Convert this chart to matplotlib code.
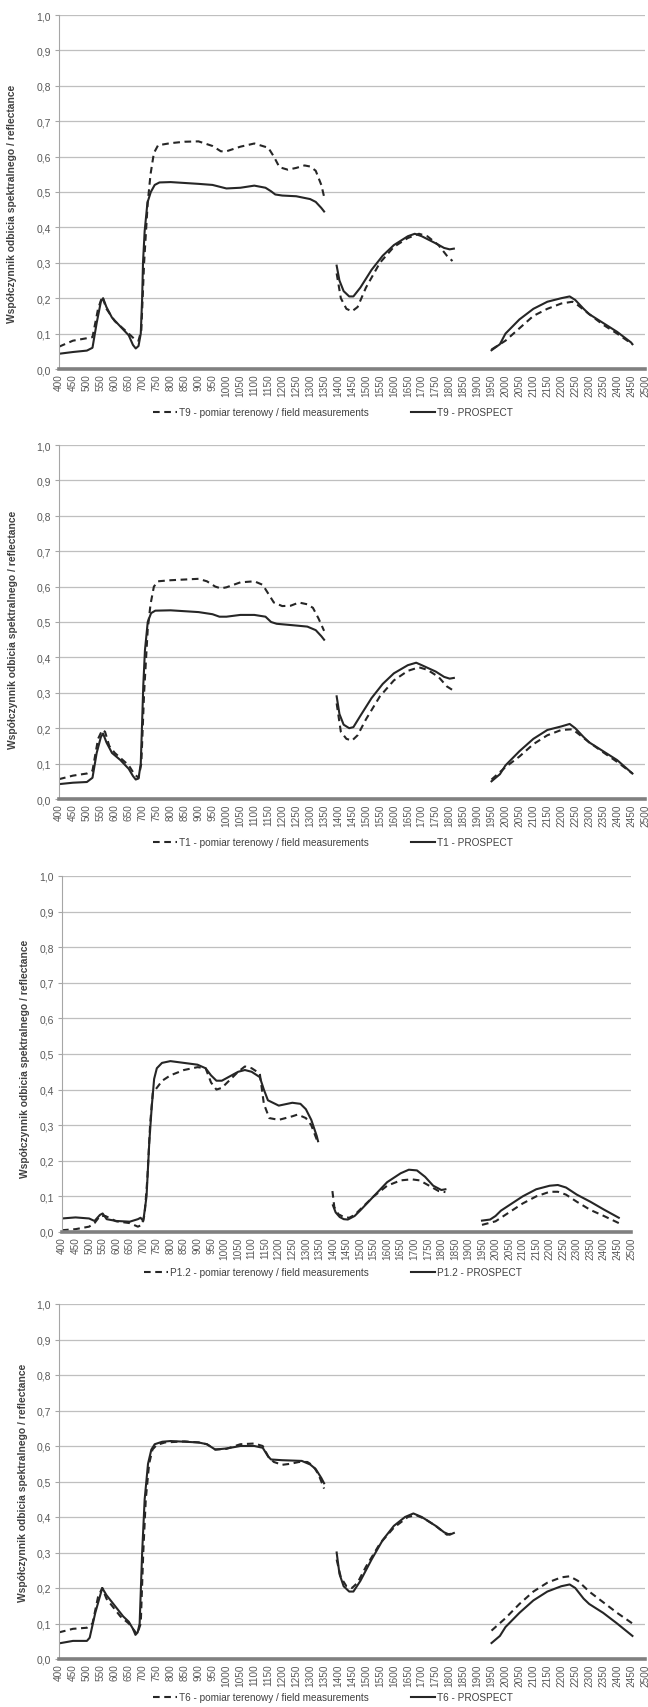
import numpy as np
import matplotlib
matplotlib.use("Agg")
import matplotlib.pyplot as plt

plt.rcParams["font.family"] = ["Liberation Sans", "DejaVu Sans"]

nan = np.nan

WAVELENGTH_TICKS = list(range(400, 2501, 50))
Y_TICKS = [0.0, 0.1, 0.2, 0.3, 0.4, 0.5, 0.6, 0.7, 0.8, 0.9, 1.0]
Y_TICK_LABELS = ["0,0", "0,1", "0,2", "0,3", "0,4", "0,5", "0,6", "0,7", "0,8", "0,9", "1,0"]
Y_LABEL = "Współczynnik odbicia spektralnego / reflectance"

# --- T9 ---
T9_FIELD_WL = [400, 450, 500, 520, 540, 555, 570, 600, 650, 670, 685, 695, 705, 718, 728, 740, 755,
               800, 850, 900, 950, 980, 1000, 1050, 1100, 1150, 1170, 1190, 1220, 1250, 1280,
               1300, 1320, 1340, 1352, 1375,
               1395, 1410, 1430, 1450, 1470, 1500, 1550, 1600, 1650, 1690, 1720, 1760, 1790, 1810, 1880,
               1950, 2000, 2050, 2100, 2150, 2200, 2240, 2260, 2300, 2350, 2400, 2455]
T9_FIELD = [0.063, 0.080, 0.087, 0.090, 0.170, 0.205, 0.170, 0.135, 0.100, 0.085, 0.080, 0.110,
            0.300, 0.470, 0.550, 0.610, 0.632, 0.638, 0.642, 0.643, 0.630, 0.615, 0.615, 0.628,
            0.637, 0.625, 0.600, 0.570, 0.563, 0.568, 0.575, 0.572, 0.560, 0.520, 0.480, nan,
            0.270, 0.200, 0.170, 0.163, 0.175, 0.230, 0.300, 0.345, 0.370, 0.382, 0.375, 0.350,
            0.320, 0.305, nan,
            0.055, 0.080, 0.115, 0.150, 0.170, 0.185, 0.190, 0.180, 0.155, 0.125, 0.100, 0.070]
T9_PROSPECT_WL = [400, 450, 500, 520, 535, 550, 558, 570, 590, 620, 650, 665, 675, 685, 693, 698,
                  701, 707, 717, 729, 743, 760, 800, 900, 950, 1000, 1050, 1100, 1140, 1160, 1175,
                  1200, 1250, 1300, 1320, 1340, 1350, 1375,
                  1395, 1405, 1420, 1440, 1455, 1480, 1520, 1560, 1600, 1650, 1675, 1700, 1750,
                  1780, 1800, 1815, 1880,
                  1950, 1980, 2000, 2050, 2100, 2150, 2200, 2230, 2250, 2280, 2300, 2350, 2400,
                  2450, 2455]
T9_PROSPECT = [0.043, 0.048, 0.052, 0.060, 0.130, 0.190, 0.200, 0.175, 0.145, 0.120, 0.095, 0.068,
               0.058, 0.065, 0.100, 0.200, 0.300, 0.390, 0.470, 0.500, 0.520, 0.527, 0.528, 0.523,
               0.520, 0.510, 0.512, 0.518, 0.512, 0.502, 0.493, 0.490, 0.488, 0.480, 0.472, 0.455,
               0.445, nan,
               0.292, 0.250, 0.220, 0.205, 0.205, 0.230, 0.280, 0.320, 0.350, 0.375, 0.382, 0.375,
               0.355, 0.342, 0.338, 0.340, nan,
               0.053, 0.070, 0.100, 0.140, 0.170, 0.190, 0.200, 0.205, 0.195, 0.170, 0.155, 0.130,
               0.105, 0.075, 0.070]

# --- T1 ---
T1_FIELD_WL = [400, 450, 500, 520, 540, 555, 565, 580, 600, 650, 670, 685, 695, 705, 718, 728, 740,
               755, 800, 850, 900, 930, 960, 980, 1000, 1050, 1100, 1130, 1150, 1170, 1200, 1230,
               1260, 1290, 1310, 1330, 1350, 1375,
               1395, 1410, 1430, 1450, 1470, 1500, 1550, 1600, 1650, 1690, 1720, 1760, 1790, 1810, 1880,
               1950, 2000, 2050, 2100, 2150, 2200, 2240, 2260, 2300, 2350, 2400, 2455]
T1_FIELD = [0.056, 0.066, 0.072, 0.080, 0.170, 0.195, 0.190, 0.150, 0.130, 0.095, 0.070, 0.060,
            0.100, 0.300, 0.480, 0.550, 0.600, 0.615, 0.618, 0.620, 0.622, 0.615, 0.600, 0.595,
            0.598, 0.612, 0.615, 0.605, 0.580, 0.555, 0.545, 0.546, 0.555, 0.550, 0.540, 0.510,
            0.475, nan,
            0.270, 0.190, 0.170, 0.165, 0.180, 0.225, 0.290, 0.335, 0.362, 0.372, 0.365, 0.345,
            0.318, 0.308, nan,
            0.055, 0.090, 0.120, 0.155, 0.180, 0.195, 0.197, 0.185, 0.160, 0.132, 0.105, 0.072]
T1_PROSPECT_WL = [400, 450, 500, 520, 535, 550, 558, 570, 590, 620, 650, 665, 675, 685, 693, 698,
                  702, 708, 718, 730, 745, 800, 900, 950, 975, 1000, 1050, 1100, 1140, 1160, 1180,
                  1250, 1290, 1320, 1340, 1350, 1375,
                  1395, 1405, 1420, 1440, 1455, 1480, 1520, 1560, 1600, 1650, 1680, 1700, 1750,
                  1780, 1800, 1815, 1880,
                  1950, 1980, 2000, 2050, 2100, 2150, 2200, 2230, 2250, 2280, 2300, 2350, 2400, 2455]
T1_PROSPECT = [0.042, 0.046, 0.048, 0.060, 0.130, 0.175, 0.185, 0.160, 0.130, 0.110, 0.085, 0.065,
               0.055, 0.058, 0.100, 0.220, 0.320, 0.420, 0.500, 0.525, 0.532, 0.533, 0.528, 0.522,
               0.515, 0.515, 0.520, 0.520, 0.515, 0.500, 0.495, 0.490, 0.487, 0.477, 0.460, 0.450,
               nan,
               0.290, 0.240, 0.210, 0.200, 0.203, 0.235, 0.285, 0.325, 0.355, 0.378, 0.385, 0.378,
               0.360, 0.345, 0.340, 0.342, nan,
               0.050, 0.070, 0.095, 0.135, 0.170, 0.195, 0.205, 0.212, 0.200, 0.175, 0.160, 0.135,
               0.110, 0.072]

# --- P1.2 ---
P12_FIELD_WL = [400, 450, 500, 520, 540, 560, 600, 650, 680, 695, 705, 715, 725, 735, 750, 770, 800,
                850, 900, 930, 950, 970, 990, 1010, 1050, 1075, 1100, 1130, 1145, 1165, 1200, 1250,
                1270, 1300, 1320, 1340, 1345, 1375,
                1398, 1405, 1420, 1440, 1460, 1480, 1500, 1550, 1600, 1650, 1690, 1720, 1760, 1790,
                1815, 1880,
                1950, 2000, 2050, 2100, 2150, 2200, 2230, 2260, 2300, 2350, 2400, 2455]
P12_FIELD = [0.005, 0.008, 0.015, 0.025, 0.045, 0.045, 0.030, 0.025, 0.015, 0.020, 0.050, 0.150,
             0.300, 0.390, 0.405, 0.425, 0.440, 0.455, 0.463, 0.460, 0.420, 0.400, 0.405, 0.420,
             0.450, 0.465, 0.460, 0.445, 0.360, 0.320, 0.315, 0.325, 0.330, 0.320, 0.300, 0.260,
             0.250, nan,
             0.115, 0.070, 0.050, 0.042, 0.040, 0.048, 0.063, 0.100, 0.130, 0.145, 0.148, 0.145,
             0.128, 0.115, 0.112, nan,
             0.020, 0.030, 0.055, 0.080, 0.100, 0.113, 0.113, 0.105, 0.085, 0.062, 0.045, 0.025]
P12_PROSPECT_WL = [400, 450, 500, 520, 540, 550, 565, 600, 650, 680, 690, 700, 712, 722, 731, 740,
                   750, 769, 800, 850, 900, 930, 950, 970, 990, 1050, 1075, 1100, 1130, 1145, 1160,
                   1200, 1250, 1280, 1300, 1320, 1340, 1345, 1375,
                   1400, 1410, 1425, 1440, 1455, 1480, 1500, 1550, 1600, 1650, 1680, 1710, 1740,
                   1770, 1800, 1815, 1880,
                   1950, 1980, 2000, 2020, 2050, 2100, 2150, 2200, 2230, 2260, 2300, 2350, 2400, 2455]
P12_PROSPECT = [0.038, 0.041, 0.038, 0.031, 0.048, 0.052, 0.036, 0.031, 0.029, 0.036, 0.040, 0.031,
                0.100, 0.250, 0.350, 0.430, 0.460, 0.475, 0.480, 0.475, 0.470, 0.460, 0.440, 0.425,
                0.425, 0.450, 0.455, 0.450, 0.435, 0.400, 0.370, 0.355, 0.363, 0.360, 0.345, 0.315,
                0.270, 0.255, nan,
                0.075, 0.055, 0.042, 0.036, 0.035, 0.045, 0.060, 0.100, 0.140, 0.165, 0.175, 0.173,
                0.155, 0.130, 0.118, 0.120, nan,
                0.032, 0.035, 0.045, 0.060, 0.075, 0.100, 0.120, 0.130, 0.132, 0.125, 0.105, 0.085,
                0.063, 0.040]

# --- T6 ---
T6_FIELD_WL = [400, 450, 500, 520, 540, 555, 570, 600, 620, 650, 670, 680, 693, 702, 711, 723, 735,
               750, 780, 850, 900, 930, 960, 1000, 1050, 1100, 1130, 1150, 1170, 1200, 1230, 1260,
               1290, 1310, 1330, 1350, 1375,
               1395, 1410, 1430, 1450, 1470, 1500, 1550, 1600, 1650, 1680, 1710, 1750, 1790, 1815, 1880,
               1950, 2000, 2050, 2100, 2150, 2200, 2230, 2260, 2300, 2350, 2400, 2455]
T6_FIELD = [0.075, 0.085, 0.088, 0.100, 0.175, 0.200, 0.170, 0.140, 0.120, 0.100, 0.080, 0.070,
            0.100, 0.300, 0.450, 0.550, 0.590, 0.603, 0.610, 0.613, 0.610, 0.605, 0.590, 0.592,
            0.605, 0.607, 0.600, 0.570, 0.555, 0.547, 0.550, 0.555, 0.555, 0.545, 0.520, 0.480, nan,
            0.280, 0.230, 0.205, 0.200, 0.215, 0.260, 0.325, 0.370, 0.400, 0.405, 0.395, 0.375,
            0.350, 0.355, nan,
            0.080, 0.115, 0.155, 0.190, 0.215, 0.230, 0.233, 0.220, 0.190, 0.160, 0.130, 0.100]
T6_PROSPECT_WL = [400, 450, 500, 510, 530, 555, 570, 600, 630, 650, 665, 674, 682, 689, 698, 707,
                  719, 731, 743, 770, 800, 900, 930, 960, 1000, 1050, 1100, 1130, 1150, 1160, 1200,
                  1270, 1300, 1320, 1340, 1350, 1375,
                  1395, 1405, 1420, 1440, 1455, 1480, 1520, 1560, 1600, 1640, 1670, 1700, 1750,
                  1780, 1800, 1815, 1880,
                  1950, 1980, 2000, 2050, 2100, 2150, 2200, 2230, 2250, 2280, 2300, 2350, 2400, 2455]
T6_PROSPECT = [0.044, 0.051, 0.051, 0.060, 0.130, 0.200, 0.180, 0.150, 0.120, 0.105, 0.085, 0.068,
               0.075, 0.100, 0.300, 0.450, 0.550, 0.590, 0.605, 0.612, 0.614, 0.610, 0.605, 0.590,
               0.593, 0.600, 0.600, 0.595, 0.570, 0.562, 0.560, 0.558, 0.548, 0.535, 0.510, 0.495, nan,
               0.300, 0.240, 0.205, 0.190, 0.190, 0.220, 0.280, 0.335, 0.375, 0.400, 0.410, 0.400,
               0.375, 0.357, 0.350, 0.355, nan,
               0.045, 0.065, 0.090, 0.130, 0.165, 0.190, 0.205, 0.210, 0.200, 0.170, 0.155, 0.130,
               0.100, 0.065]

FIG_W, FIG_H = 648, 1708
LINE_COLOR = "#262626"
TEXT_COLOR = "#595959"

# (name, field wl, field, prospect wl, prospect, axes px box [left, right, top, bottom],
#  ylabel x px, ylabel y in axes, legend y px)
panels = [
    ("T9", T9_FIELD_WL, T9_FIELD, T9_PROSPECT_WL, T9_PROSPECT, (59, 645, 16, 370), 17, 0.47, 413),
    ("T1", T1_FIELD_WL, T1_FIELD, T1_PROSPECT_WL, T1_PROSPECT, (59, 645, 446, 800), 18, 0.48, 843),
    ("P1.2", P12_FIELD_WL, P12_FIELD, P12_PROSPECT_WL, P12_PROSPECT, (62, 631, 877, 1233), 30, 0.49, 1273),
    ("T6", T6_FIELD_WL, T6_FIELD, T6_PROSPECT_WL, T6_PROSPECT, (59, 645, 1305, 1660), 28, 0.5, 1698),
]

fig = plt.figure(figsize=(FIG_W / 100, FIG_H / 100), dpi=100)

for name, fwl, fval, pwl, pval, box, ylab_x, ylab_y, leg_y in panels:
    left, right, top, bottom = box
    ax = fig.add_axes([left / FIG_W, 1 - bottom / FIG_H, (right - left) / FIG_W, (bottom - top) / FIG_H])

    ax.plot(fwl, fval, color=LINE_COLOR, lw=1.5, ls=(0, (3.2, 2.2)),
            label=f"{name} - pomiar terenowy / field measurements")
    ax.plot(pwl, pval, color=LINE_COLOR, lw=1.5, label=f"{name} - PROSPECT")

    ax.set_xlim(400, 2500)
    ax.set_ylim(0, 1.0)
    ax.set_xticks(WAVELENGTH_TICKS)
    ax.set_xticklabels([str(w) for w in WAVELENGTH_TICKS], rotation=90, fontsize=7.2, color=TEXT_COLOR)
    ax.set_yticks(Y_TICKS)
    ax.set_yticklabels(Y_TICK_LABELS, fontsize=7.5, color=TEXT_COLOR)
    ax.tick_params(axis="x", length=0, pad=3)
    ax.tick_params(axis="y", length=3, width=0.8, color="#a6a6a6", pad=3)

    ax.grid(axis="y", color="#bfbfbf", lw=0.9)
    ax.set_axisbelow(True)
    for side in ["top", "right"]:
        ax.spines[side].set_visible(False)
    ax.spines["left"].set_color("#a6a6a6")
    ax.spines["left"].set_linewidth(0.8)
    ax.spines["bottom"].set_color("#808080")
    ax.spines["bottom"].set_linewidth(2.6)

    ax.set_ylabel(Y_LABEL, fontsize=7.4, fontweight="bold", color="#404040")
    ax.yaxis.set_label_coords((ylab_x - left) / (right - left), ylab_y)

    fig.legend(*ax.get_legend_handles_labels(), loc="center",
               bbox_to_anchor=(333 / FIG_W, 1 - leg_y / FIG_H), ncol=2, frameon=False,
               fontsize=7.2, handlelength=2.4, handletextpad=0.2, columnspacing=4.2,
               labelcolor="#404040")

fig.savefig("out.png", dpi=100)
